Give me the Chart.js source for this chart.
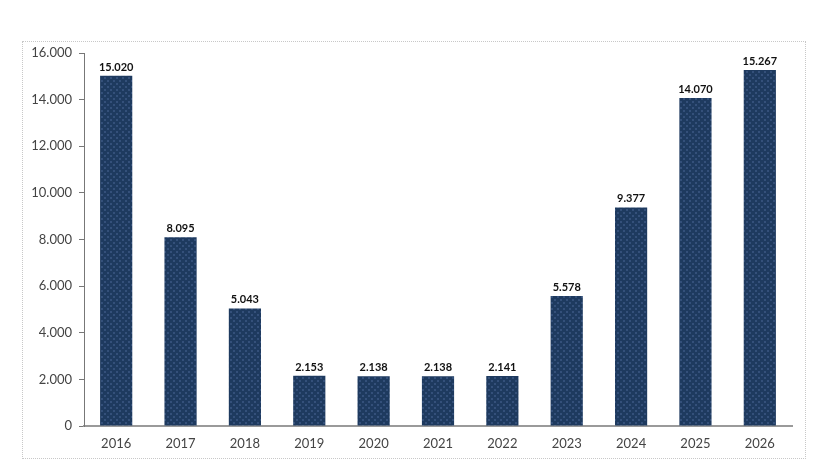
<!DOCTYPE html>
<html>
<head>
<meta charset="utf-8">
<script src="https://cdn.jsdelivr.net/npm/chart.js@4/dist/chart.umd.min.js"></script>
<style>
  body { margin: 0; background: #fff; }
  #wrap { position: relative; width: 839px; height: 464px; }
  #frame { position: absolute; left: 22px; top: 41px; width: 782px; height: 416px; border: 1px dotted #c8c8c8; }
  canvas { position: absolute; left: 0; top: 0; }
</style>
</head>
<body>
<div id="wrap">
  <div id="frame"></div>
  <canvas id="myChart" width="839" height="464"></canvas>
</div>
<script>
var years = ['2016', '2017', '2018', '2019', '2020', '2021', '2022', '2023', '2024', '2025', '2026'];
var values = [15020, 8095, 5043, 2153, 2138, 2138, 2141, 5578, 9377, 14070, 15267];
var yTicks = [0, 2000, 4000, 6000, 8000, 10000, 12000, 14000, 16000];

function fmt(n) {
    return String(n).replace(/\B(?=(\d{3})+(?!\d))/g, '.');
}

// small diamond pattern for the bars
function makePattern(ctx) {
    var p = document.createElement('canvas');
    p.width = 6; p.height = 6;
    var c = p.getContext('2d');
    c.fillStyle = '#1e3a5f';
    c.fillRect(0, 0, 6, 6);
    c.fillStyle = '#34507a';
    c.fillRect(2, 0, 2, 1);
    c.fillRect(0, 2, 1, 2);
    c.fillRect(5, 2, 1, 2);
    c.fillRect(2, 5, 2, 1);
    return ctx.createPattern(p, 'repeat');
}

var barLabels = {
    id: 'barLabels',
    afterDatasetsDraw: function(chart) {
        var ctx = chart.ctx;
        var meta = chart.getDatasetMeta(0);
        ctx.save();
        ctx.font = 'bold 11px Lato, "Open Sans", sans-serif';
        ctx.fillStyle = '#111';
        ctx.textAlign = 'center';
        ctx.textBaseline = 'bottom';
        meta.data.forEach(function(bar, i) {
            ctx.fillText(fmt(values[i]), bar.x, bar.y - 3);
        });
        ctx.restore();
    }
};

var ctx = document.getElementById('myChart').getContext('2d');
var myChart = new Chart(ctx, {
    type: 'bar',
    data: {
        labels: years,
        datasets: [{
            label: 'Value',
            data: values,
            backgroundColor: makePattern(ctx),
            borderWidth: 0,
            barPercentage: 0.5,
            categoryPercentage: 1
        }]
    },
    options: {
        responsive: false,
        animation: false,
        layout: { padding: { left: 0, top: 53, right: 47, bottom: 8 } },
        plugins: { legend: { display: false }, tooltip: { enabled: false } },
        scales: {
            x: {
                grid: { drawOnChartArea: false, drawTicks: false },
                border: { display: true, color: '#9a9a9a', width: 2 },
                ticks: { color: '#444', font: { size: 13, family: 'Lato, "Open Sans", sans-serif' }, padding: 10 },
                afterFit: function(s) { s.height = 30; }
            },
            y: {
                min: 0,
                max: 16000,
                afterBuildTicks: function(s) { s.ticks = yTicks.map(function(v) { return { value: v }; }); },
                grid: { drawOnChartArea: false, drawTicks: true, tickLength: 5, color: '#777' },
                border: { display: true, color: '#777', width: 1 },
                ticks: {
                    color: '#444',
                    font: { size: 13, family: 'Lato, "Open Sans", sans-serif' },
                    padding: 7,
                    callback: function(v) { return fmt(v); }
                },
                afterFit: function(s) { s.width = 84; }
            }
        }
    },
    plugins: [barLabels]
});
</script>
</body>
</html>
